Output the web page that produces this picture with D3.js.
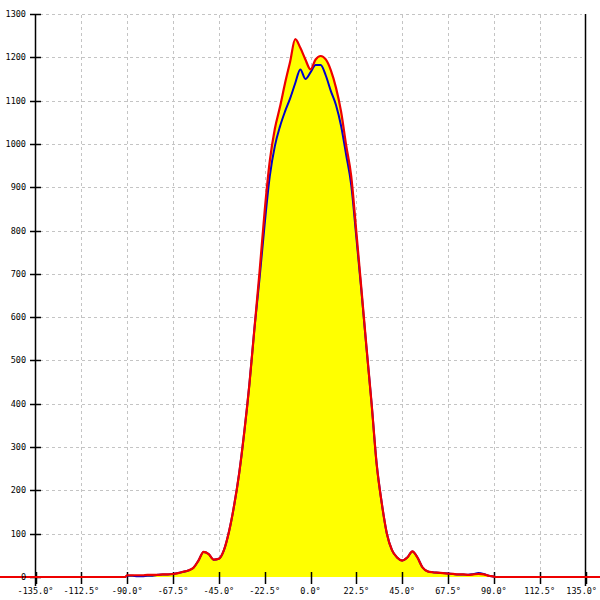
<!DOCTYPE html>
<html><head><meta charset="utf-8">
<script src="https://cdn.jsdelivr.net/npm/d3@7"></script>
<style>body{margin:0;background:#fff}svg{display:block}</style>
</head><body>
<script>
const angles = [-180,-91,-90,-87.5,-85,-82.5,-80,-77.5,-75,-72.5,-70,-67.5,-65,-62.5,-60,-57.5,-55,-52.5,-50,-47.5,-45,-42.5,-40,-37.5,-35,-32.5,-30,-27.5,-25,-22.5,-20,-17.5,-15,-12.5,-10,-7.5,-5,-2.5,0,2.5,5,7.5,10,12.5,15,17.5,20,22.5,25,27.5,30,32.5,35,37.5,40,42.5,45,47.5,50,52.5,55,57.5,60,62.5,65,67.5,70,72.5,75,77.5,80,82.5,85,87.5,90,91,180];
const redValues = [0,0,4,4,4,4,5,5,5,6,6,7,9,12,15,21,38,58,53,40,42,62,105,165,240,335,445,575,705,845,960,1035,1085,1140,1190,1242,1222,1195,1172,1195,1203,1195,1170,1130,1075,997,925,797,665,530,400,260,170,100,62,45,38,45,59,45,22,13,11,10,9,8,7,6,6,5,6,7,6,3,1,0,0];
const blueValues = [0,0,3,3,2,2,3,3,5,6,6,7,9,12,15,21,38,58,53,40,42,62,105,165,240,335,445,575,690,815,925,995,1040,1075,1105,1140,1172,1150,1165,1182,1182,1158,1122,1090,1042,975,905,785,660,528,400,260,170,100,62,45,38,45,59,45,22,13,11,10,9,8,7,6,6,5,7,9,7,3,1,0,0];
const xTicks = [-135,-112.5,-90,-67.5,-45,-22.5,0,22.5,45,67.5,90,112.5,135];
const yTicks = [0,100,200,300,400,500,600,700,800,900,1000,1100,1200,1300];

const W=600,H=600;
const svg=d3.select("body").append("svg").attr("width",W).attr("height",H);
const x=d3.scaleLinear().domain([-135,135]).range([35.5,585.5]);
const y=d3.scaleLinear().domain([0,1300]).range([577,14]);
const font="'DejaVu Sans Mono', monospace";

// grid
const g=svg.append("g");
g.selectAll("line.h").data(yTicks.filter(v=>v>0)).join("line")
 .attr("x1",40).attr("x2",582).attr("y1",d=>Math.round(y(d))+0.5).attr("y2",d=>Math.round(y(d))+0.5)
 .attr("stroke","#c4c4c4").attr("stroke-dasharray","3,3");
g.selectAll("line.v").data(xTicks.filter(v=>v>-135&&v<135)).join("line")
 .attr("x1",d=>Math.round(x(d))+0.5).attr("x2",d=>Math.round(x(d))+0.5).attr("y1",15).attr("y2",572)
 .attr("stroke","#c4c4c4").attr("stroke-dasharray","3,3");

const pts=angles.map((a,i)=>({a,r:redValues[i],b:blueValues[i]}));
const area=d3.area().x(d=>x(d.a)).y0(y(0)).y1(d=>y(d.r)).curve(d3.curveMonotoneX);
svg.append("path").datum(pts).attr("d",area).attr("fill","#ffff00");

// axes
const ax=svg.append("g").attr("stroke","#000").attr("stroke-width",1.5);
ax.append("line").attr("x1",35.5).attr("x2",35.5).attr("y1",14).attr("y2",586);
ax.append("line").attr("x1",585.5).attr("x2",585.5).attr("y1",14).attr("y2",586);
ax.selectAll("line.yt").data(yTicks).join("line")
 .attr("x1",30).attr("x2",41).attr("y1",d=>Math.round(y(d))+0.5).attr("y2",d=>Math.round(y(d))+0.5);
ax.selectAll("line.xt").data(xTicks).join("line")
 .attr("x1",d=>Math.round(x(d))+0.5).attr("x2",d=>Math.round(x(d))+0.5).attr("y1",572).attr("y2",584);

const line=(k)=>d3.line().x(d=>x(d.a)).y(d=>y(d[k])).curve(d3.curveMonotoneX);
svg.append("path").datum(pts).attr("d",line("b")).attr("fill","none").attr("stroke","#0000cc").attr("stroke-width",2);
svg.append("path").datum(pts).attr("d",line("r")).attr("fill","none").attr("stroke","#ee0000").attr("stroke-width",2.2);

// labels
svg.append("g").selectAll("text").data(yTicks).join("text")
 .attr("x",26).attr("y",d=>y(d)+3).attr("text-anchor","end")
 .attr("font-family",font).attr("font-size",8.5).attr("fill","#000")
 .text(d=>d);
svg.append("g").selectAll("text").data(xTicks).join("text")
 .attr("x",d=>d===135?597:x(d)).attr("y",594).attr("text-anchor",d=>d===135?"end":"middle")
 .attr("font-family",font).attr("font-size",8.5).attr("fill","#000")
 .text(d=>d.toFixed(1)+"°");
</script>
</body></html>
